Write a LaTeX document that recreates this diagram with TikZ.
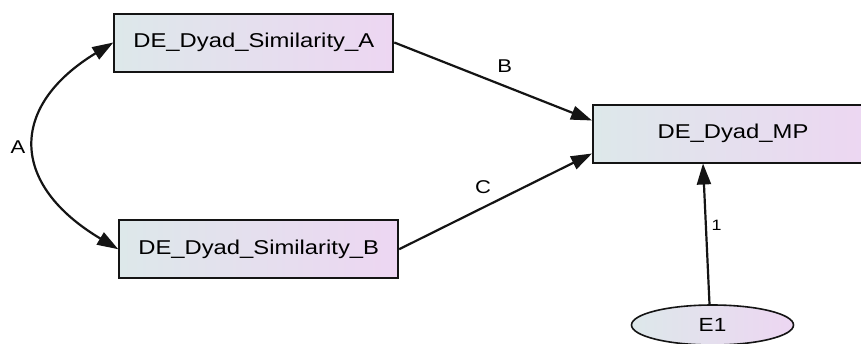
\documentclass[tikz,border=0pt]{standalone}
\usepackage{fontspec}
\usetikzlibrary{arrows.meta,shapes.geometric,calc}
\newfontfamily\diagfont[FakeStretch=1.19]{Liberation Sans}
\definecolor{shadeL}{RGB}{221,232,234}
\definecolor{shadeR}{RGB}{237,214,242}
\definecolor{edgeink}{RGB}{20,20,20}
\begin{document}
\begin{tikzpicture}[x=1pt,y=-1pt,
  varbox/.style={draw=edgeink,line width=2pt,rectangle,minimum width=279pt,minimum height=58pt,
    inner sep=0pt,left color=shadeL,right color=shadeR,font=\diagfont\fontsize{20}{24}\selectfont},
  errvar/.style={draw=edgeink,line width=1.6pt,ellipse,minimum width=162pt,minimum height=40pt,
    inner sep=0pt,left color=shadeL,right color=shadeR,font=\diagfont\fontsize{19}{23}\selectfont},
  path/.style={draw=edgeink,line width=2.2pt,-{Triangle[length=21pt,width=14pt]}},
  covpath/.style={draw=edgeink,line width=2.2pt,{Triangle[length=21pt,width=14pt]}-{Triangle[length=21pt,width=14pt]}},
  lbl/.style={inner sep=0pt,font=\diagfont\fontsize{18.5}{21}\selectfont},
  smalllbl/.style={inner sep=0pt,font=\diagfont\fontsize{15}{18}\selectfont}]
\useasboundingbox (0,0) rectangle (861,343);
\fill[white] (0,0) rectangle (861,343);

% observed variables
\node[varbox] (simA) at (253.8,42.5) {DE\_Dyad\_Similarity\_A};
\node[varbox] (simB) at (258.7,249.2) {DE\_Dyad\_Similarity\_B};
\node[varbox,minimum width=280pt] (mp) at (733,133.5) {DE\_Dyad\_MP};
% error term
\node[errvar] (e1) at (712.5,325) {E1};

% covariance between the two predictors
\draw[covpath] (simA.west) .. controls (9,106) and (9,184) .. (simB.west);
\node[lbl] (labA) at (18,147) {A};

% regression paths
\draw[path] (simA.east) -- ($(mp.west)+(0,-13)$);
\node[lbl] (labB) at (504.7,65.8) {B};
\draw[path] (simB.east) -- ($(mp.west)+(0,20)$);
\node[lbl] (labC) at (483,187) {C};

% error path with fixed weight
\draw[path] ($(e1.north)+(-3,0)$) -- ($(mp.south)+(-30,0)$);
\node[smalllbl] (labOne) at (716.5,225.5) {1};
\end{tikzpicture}
\end{document}
